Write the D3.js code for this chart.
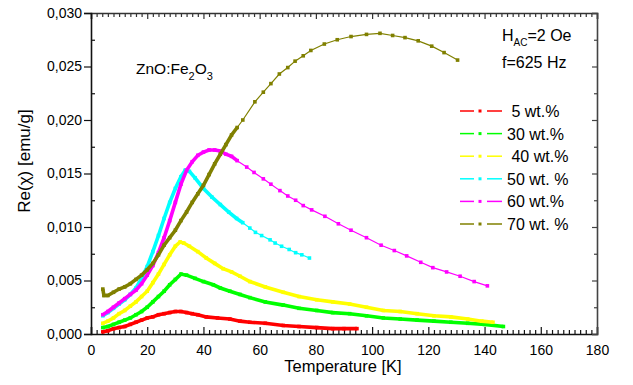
<!DOCTYPE html>
<html>
<head>
<meta charset="utf-8">
<script src="https://cdn.jsdelivr.net/npm/d3@7"></script>
<style>
  body { margin: 0; background: #fff; }
  text { font-family: "Liberation Sans", Arial, sans-serif; fill: #000; }
  .leg { white-space: pre; }
</style>
</head>
<body>
<svg id="chart" width="633" height="385"></svg>
<script>
// data: [T (K), Re(chi) (emu/g)]
const red5 = [[4.2,0.0002],[6,0.0003],[8,0.0005],[10,0.0006],[12,0.0007],[14,0.0009],[16,0.0011],[18,0.0013],[20,0.0015],[22,0.0016],[24,0.0018],[26,0.0019],[28,0.0020],[30,0.0021],[32,0.0021],[34,0.0020],[36,0.0019],[38,0.0018],[41,0.0016],[45,0.0015],[49.4,0.0014],[53,0.0012],[56.5,0.0011],[62,0.0010],[68.4,0.0008],[74,0.0007],[80.3,0.0006],[86,0.0005],[90,0.0005],[94.6,0.0005]];
const green30 = [[4.2,0.0006],[6,0.0007],[8,0.0009],[10,0.0011],[12,0.0013],[14,0.0015],[16,0.0018],[18,0.0021],[20,0.0025],[22,0.0030],[24,0.0035],[26,0.0040],[28,0.0046],[30,0.0051],[32,0.0056],[34,0.0055],[37,0.0052],[40,0.0049],[43.5,0.0046],[46,0.0043],[49.4,0.0040],[53,0.0037],[56.5,0.0034],[62,0.0030],[68.4,0.0027],[74,0.0024],[80.3,0.0022],[86,0.0020],[92,0.0019],[98,0.0017],[104,0.0015],[110,0.0014],[116,0.0013],[122,0.0012],[128,0.0011],[134,0.0010],[140,0.0009],[146.7,0.0007]];
const yellow40 = [[4.2,0.0010],[6,0.0012],[8,0.0015],[10,0.0019],[12,0.0022],[14,0.0026],[16,0.0030],[18,0.0035],[20,0.0040],[22,0.0048],[24,0.0056],[26,0.0065],[28,0.0074],[30,0.0082],[31.7,0.0086],[33,0.0085],[35,0.0082],[38,0.0077],[41,0.0071],[44,0.0066],[47,0.0061],[50,0.0058],[53,0.0054],[56.5,0.0049],[62,0.0044],[68.4,0.0039],[74,0.0035],[80.3,0.0032],[86,0.0030],[92,0.0028],[98,0.0025],[104,0.0022],[110,0.0021],[116,0.0019],[122,0.0017],[128,0.0016],[134,0.0014],[139,0.0012],[143,0.0011]];
const cyan50 = [[4.2,0.0017],[6,0.0020],[8,0.0024],[10,0.0028],[12,0.0032],[14,0.0037],[16,0.0043],[18,0.0052],[20,0.0063],[22,0.0077],[24,0.0092],[26,0.0108],[28,0.0123],[30,0.0136],[32,0.0147],[33.5,0.0153],[35,0.0152],[37,0.0146],[40,0.0136],[43,0.0128],[46,0.0121],[49,0.0114],[51.8,0.0108],[54,0.0104],[56.5,0.0099],[58.5,0.0095],[60.7,0.0092],[63.7,0.0088],[65.5,0.0085],[67.8,0.0082],[70.5,0.0079],[72.8,0.0076],[75,0.0074],[77.7,0.0071]];
const magenta60 = [[4.2,0.0018],[6,0.0021],[8,0.0025],[10,0.0029],[12,0.0033],[14,0.0037],[16,0.0041],[18,0.0047],[20,0.0055],[22,0.0064],[24,0.0076],[26,0.0090],[28,0.0106],[30,0.0123],[32,0.0140],[34,0.0153],[36,0.0161],[38,0.0167],[40,0.0170],[42,0.0172],[44,0.0172],[46,0.0171],[48,0.0168],[50,0.0166],[52,0.0162],[55.4,0.0156],[58,0.0151],[61.3,0.0145],[64,0.0140],[67.2,0.0134],[70,0.0129],[72.8,0.0125],[75.5,0.0120],[78.5,0.0116],[83.2,0.0110],[88,0.0103],[92.5,0.0097],[98,0.0090],[103.2,0.0083],[107.9,0.0078],[112.3,0.0073],[117.3,0.0067],[121.6,0.0062],[126.5,0.0058],[131.3,0.0054],[136.3,0.0049],[141,0.0045]];
const olive70 = [[4.2,0.0042],[4.6,0.0036],[6,0.0036],[8,0.0039],[10,0.0042],[12,0.0044],[14,0.0047],[16,0.0051],[18,0.0055],[20,0.0060],[22,0.0066],[24,0.0074],[26,0.0083],[28,0.0090],[30,0.0097],[32,0.0106],[34,0.0114],[36,0.0123],[38,0.0131],[40,0.0139],[42,0.0149],[44,0.0159],[46,0.0168],[48,0.0177],[50,0.0186],[52,0.0193],[54,0.0200],[58.3,0.0217],[61.3,0.0226],[64,0.0234],[67,0.0243],[70,0.0249],[72.6,0.0255],[75.5,0.0260],[78.2,0.0265],[83,0.0271],[87.6,0.0275],[92.5,0.0278],[98,0.0280],[102.8,0.0281],[107.3,0.0279],[111.7,0.0277],[116.4,0.0274],[121.2,0.0269],[125.6,0.0263],[130.4,0.0256]];

const seriesNames = [" 5 wt.%", "30 wt.%", " 40 wt.%", "50 wt. %", "60 wt.%", "70 wt. %"];
const seriesData = [red5, green30, yellow40, cyan50, magenta60, olive70];
const seriesColors = ["#ff0000", "#00ff00", "#ffff00", "#00ffff", "#ff00ff", "#808000"];
// markers lie so close together below this temperature that they form a thick band
const denseUntil = [999, 999, 999, 55, 53, 53];

const xMajor = d3.range(0, 181, 20);
const xMinor = d3.range(0, 181, 2).filter(v => v % 20 !== 0);
const yMajor = [0, 0.005, 0.010, 0.015, 0.020, 0.025, 0.030];
const yMinor = [0.0025, 0.0075, 0.0125, 0.0175, 0.0225, 0.0275];

const svg = d3.select("#chart");
const frame = { left: 91, right: 597, top: 13, bottom: 334 };

const x = d3.scaleLinear([0, 180], [frame.left, frame.right]);
const y = d3.scaleLinear([0, 0.030], [frame.bottom, frame.top]);
const fmt = v => v.toFixed(3).replace(".", ",");

// axes
function styleAxis(g, color) {
    g.select(".domain").attr("stroke", color).attr("stroke-width", 1.6);
    g.selectAll(".tick line").attr("stroke", color).attr("stroke-width", 1.2);
    g.selectAll(".tick text").style("font-size", "14px").attr("fill", "#000");
}

svg.append("g").attr("transform", `translate(0,${frame.bottom})`)
    .call(d3.axisBottom(x).tickValues(xMajor).tickSize(-7).tickPadding(11).tickFormat(d3.format("d")))
    .call(g => styleAxis(g, "#111"));
svg.append("g").attr("transform", `translate(0,${frame.bottom})`)
    .call(d3.axisBottom(x).tickValues(xMinor).tickSize(-4).tickFormat(""))
    .call(g => { g.select(".domain").remove(); styleAxis(g, "#111"); });

svg.append("g").attr("transform", `translate(0,${frame.top})`)
    .call(d3.axisTop(x).tickValues(xMajor).tickSize(-6).tickFormat(""))
    .call(g => styleAxis(g, "#333"));
svg.append("g").attr("transform", `translate(0,${frame.top})`)
    .call(d3.axisTop(x).tickValues(xMinor).tickSize(-4).tickFormat(""))
    .call(g => { g.select(".domain").remove(); styleAxis(g, "#333"); });

svg.append("g").attr("transform", `translate(${frame.left},0)`)
    .call(d3.axisLeft(y).tickValues(yMajor).tickSize(7).tickPadding(2).tickFormat(fmt))
    .call(g => styleAxis(g, "#111"));
svg.append("g").attr("transform", `translate(${frame.left},0)`)
    .call(d3.axisLeft(y).tickValues(yMinor).tickSize(-4).tickFormat(""))
    .call(g => { g.select(".domain").remove(); styleAxis(g, "#111"); });

svg.append("g").attr("transform", `translate(${frame.right},0)`)
    .call(d3.axisRight(y).tickValues(yMajor).tickSize(-5).tickFormat(""))
    .call(g => styleAxis(g, "#444"));
svg.append("g").attr("transform", `translate(${frame.right},0)`)
    .call(d3.axisRight(y).tickValues(yMinor).tickSize(-3).tickFormat(""))
    .call(g => { g.select(".domain").remove(); styleAxis(g, "#444"); });

// axis titles
svg.append("text")
    .attr("x", 343).attr("y", 372)
    .attr("text-anchor", "middle")
    .style("font-size", "16.5px")
    .text("Temperature [K]");

svg.append("text")
    .attr("transform", "translate(30,161) rotate(-90)")
    .attr("text-anchor", "middle")
    .style("font-size", "17px")
    .text("Re(χ) [emu/g]");

// curves
const line = d3.line().x(d => x(d[0])).y(d => y(d[1]));
const plot = svg.append("g");

seriesData.forEach((data, i) => {
    const c = seriesColors[i];
    plot.append("path")
        .datum(data)
        .attr("fill", "none")
        .attr("stroke", c)
        .attr("stroke-width", 1.2)
        .attr("d", line);
    plot.append("path")
        .datum(data.filter(d => d[0] <= denseUntil[i]))
        .attr("fill", "none")
        .attr("stroke", c)
        .attr("stroke-width", 3.6)
        .attr("d", line);
    plot.selectAll(null)
        .data(data)
        .enter().append("rect")
        .attr("x", d => x(d[0]) - 1.8)
        .attr("y", d => y(d[1]) - 1.8)
        .attr("width", 3.6)
        .attr("height", 3.6)
        .attr("fill", c);
});

// legend
const legend = svg.append("g");
seriesNames.forEach((name, i) => {
    const ly = 111 + i * 22.6;
    const c = seriesColors[i];
    legend.append("line").attr("x1", 460).attr("x2", 474).attr("y1", ly).attr("y2", ly)
        .attr("stroke", c).attr("stroke-width", 1.5);
    legend.append("line").attr("x1", 487).attr("x2", 502).attr("y1", ly).attr("y2", ly)
        .attr("stroke", c).attr("stroke-width", 1.5);
    legend.append("rect").attr("x", 478.5).attr("y", ly - 1.5).attr("width", 3).attr("height", 3)
        .attr("fill", c);
    legend.append("text")
        .attr("class", "leg")
        .attr("x", 507).attr("y", ly + 6)
        .style("font-size", "16px")
        .text(name);
});

// annotations
const h = svg.append("text").attr("x", 502).attr("y", 41).style("font-size", "16px");
h.append("tspan").text("H");
h.append("tspan").attr("dy", 5).style("font-size", "10px").text("AC");
h.append("tspan").attr("dy", -5).text("=2 Oe");

svg.append("text").attr("x", 502).attr("y", 68).style("font-size", "16px").text("f=625 Hz");

const zn = svg.append("text").attr("x", 136).attr("y", 74).style("font-size", "15.5px");
zn.append("tspan").text("ZnO:Fe");
zn.append("tspan").attr("dy", 6).style("font-size", "11px").text("2");
zn.append("tspan").attr("dy", -6).text("O");
zn.append("tspan").attr("dy", 6).style("font-size", "11px").text("3");
</script>
</body>
</html>
